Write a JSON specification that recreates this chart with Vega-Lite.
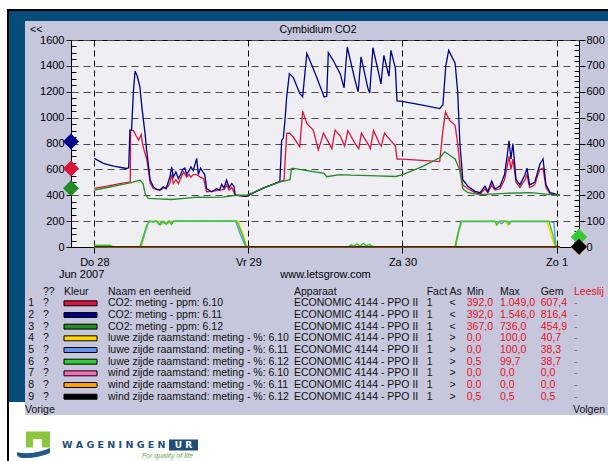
{
"$schema": "https://vega.github.io/schema/vega-lite/v6.json",
"background": "#c6c6dc",
"padding": 0,
"config": {
  "font": "Liberation Sans",
  "view": {"stroke": null},
  "text": {"font": "Liberation Sans", "fontSize": 10.5, "align": "left", "baseline": "middle", "color": "#111111"},
  "axis": {"labelFont": "Liberation Sans", "titleFont": "Liberation Sans", "labelColor": "#000000", "titleColor": "#000000"},
  "title": {"font": "Liberation Sans", "fontSize": 10.5, "fontWeight": "normal", "color": "#000000"}
},
"datasets": {
  "co2": [
    {"s":"CO2 6.10","t":"2007-06-28T00:00","v":453},{"s":"CO2 6.10","t":"2007-06-28T02:00","v":470},{"s":"CO2 6.10","t":"2007-06-28T04:00","v":490},{"s":"CO2 6.10","t":"2007-06-28T05:36","v":504},{"s":"CO2 6.10","t":"2007-06-28T05:39","v":903},{"s":"CO2 6.10","t":"2007-06-28T06:06","v":900},{"s":"CO2 6.10","t":"2007-06-28T06:30","v":860},{"s":"CO2 6.10","t":"2007-06-28T06:54","v":826},{"s":"CO2 6.10","t":"2007-06-28T07:18","v":870},{"s":"CO2 6.10","t":"2007-06-28T07:30","v":800},{"s":"CO2 6.10","t":"2007-06-28T07:45","v":750},{"s":"CO2 6.10","t":"2007-06-28T08:12","v":672},{"s":"CO2 6.10","t":"2007-06-28T08:42","v":494},{"s":"CO2 6.10","t":"2007-06-28T09:12","v":453},{"s":"CO2 6.10","t":"2007-06-28T10:12","v":440},{"s":"CO2 6.10","t":"2007-06-28T11:00","v":460},{"s":"CO2 6.10","t":"2007-06-28T11:30","v":470},{"s":"CO2 6.10","t":"2007-06-28T11:48","v":500},{"s":"CO2 6.10","t":"2007-06-28T12:03","v":560},{"s":"CO2 6.10","t":"2007-06-28T12:18","v":490},{"s":"CO2 6.10","t":"2007-06-28T12:42","v":520},{"s":"CO2 6.10","t":"2007-06-28T13:06","v":490},{"s":"CO2 6.10","t":"2007-06-28T13:54","v":582},{"s":"CO2 6.10","t":"2007-06-28T14:24","v":540},{"s":"CO2 6.10","t":"2007-06-28T14:45","v":560},{"s":"CO2 6.10","t":"2007-06-28T15:03","v":540},{"s":"CO2 6.10","t":"2007-06-28T15:24","v":560},{"s":"CO2 6.10","t":"2007-06-28T15:57","v":560},{"s":"CO2 6.10","t":"2007-06-28T16:30","v":540},{"s":"CO2 6.10","t":"2007-06-28T17:00","v":530},{"s":"CO2 6.10","t":"2007-06-28T17:30","v":427},{"s":"CO2 6.10","t":"2007-06-28T18:18","v":430},{"s":"CO2 6.10","t":"2007-06-28T19:30","v":440},{"s":"CO2 6.10","t":"2007-06-28T20:12","v":445},{"s":"CO2 6.10","t":"2007-06-28T20:36","v":480},{"s":"CO2 6.10","t":"2007-06-28T21:00","v":440},{"s":"CO2 6.10","t":"2007-06-28T21:24","v":460},{"s":"CO2 6.10","t":"2007-06-28T21:57","v":400},{"s":"CO2 6.10","t":"2007-06-28T23:42","v":392},
    {"s":"CO2 6.10","t":"2007-06-29T02:18","v":455},{"s":"CO2 6.10","t":"2007-06-29T04:54","v":504},{"s":"CO2 6.10","t":"2007-06-29T05:33","v":517},{"s":"CO2 6.10","t":"2007-06-29T05:58","v":878},{"s":"CO2 6.10","t":"2007-06-29T06:24","v":880},{"s":"CO2 6.10","t":"2007-06-29T07:00","v":850},{"s":"CO2 6.10","t":"2007-06-29T08:00","v":775},{"s":"CO2 6.10","t":"2007-06-29T08:27","v":1049},{"s":"CO2 6.10","t":"2007-06-29T09:06","v":955},{"s":"CO2 6.10","t":"2007-06-29T10:06","v":903},{"s":"CO2 6.10","t":"2007-06-29T10:54","v":750},{"s":"CO2 6.10","t":"2007-06-29T11:42","v":880},{"s":"CO2 6.10","t":"2007-06-29T13:00","v":760},{"s":"CO2 6.10","t":"2007-06-29T13:30","v":903},{"s":"CO2 6.10","t":"2007-06-29T14:18","v":860},{"s":"CO2 6.10","t":"2007-06-29T15:00","v":780},{"s":"CO2 6.10","t":"2007-06-29T15:30","v":900},{"s":"CO2 6.10","t":"2007-06-29T16:36","v":800},{"s":"CO2 6.10","t":"2007-06-29T17:12","v":760},{"s":"CO2 6.10","t":"2007-06-29T17:36","v":880},{"s":"CO2 6.10","t":"2007-06-29T18:42","v":790},{"s":"CO2 6.10","t":"2007-06-29T19:00","v":760},{"s":"CO2 6.10","t":"2007-06-29T19:30","v":900},{"s":"CO2 6.10","t":"2007-06-29T20:24","v":800},{"s":"CO2 6.10","t":"2007-06-29T20:42","v":780},{"s":"CO2 6.10","t":"2007-06-29T21:12","v":880},{"s":"CO2 6.10","t":"2007-06-29T22:12","v":820},{"s":"CO2 6.10","t":"2007-06-29T22:54","v":780},{"s":"CO2 6.10","t":"2007-06-29T23:09","v":680},
    {"s":"CO2 6.10","t":"2007-06-30T00:00","v":680},{"s":"CO2 6.10","t":"2007-06-30T03:00","v":670},{"s":"CO2 6.10","t":"2007-06-30T05:48","v":660},{"s":"CO2 6.10","t":"2007-06-30T06:18","v":900},{"s":"CO2 6.10","t":"2007-06-30T06:42","v":1045},{"s":"CO2 6.10","t":"2007-06-30T07:18","v":980},{"s":"CO2 6.10","t":"2007-06-30T08:12","v":940},{"s":"CO2 6.10","t":"2007-06-30T08:36","v":800},{"s":"CO2 6.10","t":"2007-06-30T09:00","v":600},{"s":"CO2 6.10","t":"2007-06-30T09:24","v":480},{"s":"CO2 6.10","t":"2007-06-30T10:12","v":450},{"s":"CO2 6.10","t":"2007-06-30T11:18","v":420},{"s":"CO2 6.10","t":"2007-06-30T12:06","v":410},{"s":"CO2 6.10","t":"2007-06-30T12:51","v":450},{"s":"CO2 6.10","t":"2007-06-30T13:18","v":420},{"s":"CO2 6.10","t":"2007-06-30T13:54","v":480},{"s":"CO2 6.10","t":"2007-06-30T14:24","v":440},{"s":"CO2 6.10","t":"2007-06-30T15:12","v":450},{"s":"CO2 6.10","t":"2007-06-30T15:54","v":520},{"s":"CO2 6.10","t":"2007-06-30T16:18","v":620},{"s":"CO2 6.10","t":"2007-06-30T16:36","v":700},{"s":"CO2 6.10","t":"2007-06-30T16:54","v":600},{"s":"CO2 6.10","t":"2007-06-30T17:12","v":680},{"s":"CO2 6.10","t":"2007-06-30T17:42","v":500},{"s":"CO2 6.10","t":"2007-06-30T18:18","v":460},{"s":"CO2 6.10","t":"2007-06-30T19:06","v":520},{"s":"CO2 6.10","t":"2007-06-30T19:24","v":560},{"s":"CO2 6.10","t":"2007-06-30T19:48","v":460},{"s":"CO2 6.10","t":"2007-06-30T20:36","v":480},{"s":"CO2 6.10","t":"2007-06-30T21:24","v":600},{"s":"CO2 6.10","t":"2007-06-30T21:54","v":610},{"s":"CO2 6.10","t":"2007-06-30T22:21","v":460},{"s":"CO2 6.10","t":"2007-06-30T23:00","v":410},{"s":"CO2 6.10","t":"2007-07-01T00:30","v":400},
    {"s":"CO2 6.11","t":"2007-06-28T00:00","v":685},{"s":"CO2 6.11","t":"2007-06-28T01:24","v":646},{"s":"CO2 6.11","t":"2007-06-28T03:00","v":625},{"s":"CO2 6.11","t":"2007-06-28T05:00","v":607},{"s":"CO2 6.11","t":"2007-06-28T05:21","v":612},{"s":"CO2 6.11","t":"2007-06-28T05:33","v":903},{"s":"CO2 6.11","t":"2007-06-28T05:48","v":905},{"s":"CO2 6.11","t":"2007-06-28T06:06","v":1212},{"s":"CO2 6.11","t":"2007-06-28T06:21","v":1359},{"s":"CO2 6.11","t":"2007-06-28T06:42","v":1320},{"s":"CO2 6.11","t":"2007-06-28T07:06","v":1238},{"s":"CO2 6.11","t":"2007-06-28T07:24","v":1083},{"s":"CO2 6.11","t":"2007-06-28T07:54","v":878},{"s":"CO2 6.11","t":"2007-06-28T08:09","v":749},{"s":"CO2 6.11","t":"2007-06-28T08:42","v":517},{"s":"CO2 6.11","t":"2007-06-28T09:12","v":466},{"s":"CO2 6.11","t":"2007-06-28T09:42","v":445},{"s":"CO2 6.11","t":"2007-06-28T10:12","v":440},{"s":"CO2 6.11","t":"2007-06-28T10:45","v":465},{"s":"CO2 6.11","t":"2007-06-28T11:12","v":450},{"s":"CO2 6.11","t":"2007-06-28T11:30","v":500},{"s":"CO2 6.11","t":"2007-06-28T11:48","v":545},{"s":"CO2 6.11","t":"2007-06-28T12:03","v":620},{"s":"CO2 6.11","t":"2007-06-28T12:18","v":540},{"s":"CO2 6.11","t":"2007-06-28T12:42","v":580},{"s":"CO2 6.11","t":"2007-06-28T13:06","v":530},{"s":"CO2 6.11","t":"2007-06-28T13:27","v":560},{"s":"CO2 6.11","t":"2007-06-28T13:45","v":600},{"s":"CO2 6.11","t":"2007-06-28T14:06","v":610},{"s":"CO2 6.11","t":"2007-06-28T14:24","v":560},{"s":"CO2 6.11","t":"2007-06-28T14:45","v":590},{"s":"CO2 6.11","t":"2007-06-28T15:03","v":620},{"s":"CO2 6.11","t":"2007-06-28T15:24","v":590},{"s":"CO2 6.11","t":"2007-06-28T15:57","v":685},{"s":"CO2 6.11","t":"2007-06-28T16:12","v":560},{"s":"CO2 6.11","t":"2007-06-28T16:33","v":610},{"s":"CO2 6.11","t":"2007-06-28T16:54","v":580},{"s":"CO2 6.11","t":"2007-06-28T17:12","v":560},{"s":"CO2 6.11","t":"2007-06-28T17:30","v":450},{"s":"CO2 6.11","t":"2007-06-28T18:18","v":427},{"s":"CO2 6.11","t":"2007-06-28T19:03","v":450},{"s":"CO2 6.11","t":"2007-06-28T19:30","v":440},{"s":"CO2 6.11","t":"2007-06-28T19:51","v":483},{"s":"CO2 6.11","t":"2007-06-28T20:12","v":455},{"s":"CO2 6.11","t":"2007-06-28T20:36","v":517},{"s":"CO2 6.11","t":"2007-06-28T21:00","v":460},{"s":"CO2 6.11","t":"2007-06-28T21:24","v":490},{"s":"CO2 6.11","t":"2007-06-28T21:45","v":470},{"s":"CO2 6.11","t":"2007-06-28T21:57","v":400},{"s":"CO2 6.11","t":"2007-06-28T23:42","v":392},
    {"s":"CO2 6.11","t":"2007-06-29T02:18","v":455},{"s":"CO2 6.11","t":"2007-06-29T04:54","v":505},{"s":"CO2 6.11","t":"2007-06-29T05:11","v":826},{"s":"CO2 6.11","t":"2007-06-29T05:26","v":840},{"s":"CO2 6.11","t":"2007-06-29T05:42","v":980},{"s":"CO2 6.11","t":"2007-06-29T05:58","v":1160},{"s":"CO2 6.11","t":"2007-06-29T06:23","v":1340},{"s":"CO2 6.11","t":"2007-06-29T07:00","v":1310},{"s":"CO2 6.11","t":"2007-06-29T08:00","v":1187},{"s":"CO2 6.11","t":"2007-06-29T08:27","v":1160},{"s":"CO2 6.11","t":"2007-06-29T09:06","v":1495},{"s":"CO2 6.11","t":"2007-06-29T09:36","v":1440},{"s":"CO2 6.11","t":"2007-06-29T10:39","v":1310},{"s":"CO2 6.11","t":"2007-06-29T11:48","v":1160},{"s":"CO2 6.11","t":"2007-06-29T12:12","v":1165},{"s":"CO2 6.11","t":"2007-06-29T12:27","v":1503},{"s":"CO2 6.11","t":"2007-06-29T13:12","v":1443},{"s":"CO2 6.11","t":"2007-06-29T14:18","v":1340},{"s":"CO2 6.11","t":"2007-06-29T14:54","v":1230},{"s":"CO2 6.11","t":"2007-06-29T15:24","v":1546},{"s":"CO2 6.11","t":"2007-06-29T16:36","v":1290},{"s":"CO2 6.11","t":"2007-06-29T17:06","v":1200},{"s":"CO2 6.11","t":"2007-06-29T17:33","v":1470},{"s":"CO2 6.11","t":"2007-06-29T18:36","v":1230},{"s":"CO2 6.11","t":"2007-06-29T18:54","v":1190},{"s":"CO2 6.11","t":"2007-06-29T19:24","v":1540},{"s":"CO2 6.11","t":"2007-06-29T20:21","v":1330},{"s":"CO2 6.11","t":"2007-06-29T20:39","v":1260},{"s":"CO2 6.11","t":"2007-06-29T21:06","v":1480},{"s":"CO2 6.11","t":"2007-06-29T21:54","v":1320},{"s":"CO2 6.11","t":"2007-06-29T22:12","v":1520},{"s":"CO2 6.11","t":"2007-06-29T22:54","v":1380},{"s":"CO2 6.11","t":"2007-06-29T23:09","v":1130},
    {"s":"CO2 6.11","t":"2007-06-29T23:54","v":1125},{"s":"CO2 6.11","t":"2007-06-30T02:42","v":1100},{"s":"CO2 6.11","t":"2007-06-30T05:48","v":1070},{"s":"CO2 6.11","t":"2007-06-30T06:18","v":1100},{"s":"CO2 6.11","t":"2007-06-30T06:45","v":1400},{"s":"CO2 6.11","t":"2007-06-30T07:12","v":1520},{"s":"CO2 6.11","t":"2007-06-30T08:12","v":1420},{"s":"CO2 6.11","t":"2007-06-30T08:36","v":1200},{"s":"CO2 6.11","t":"2007-06-30T08:57","v":800},{"s":"CO2 6.11","t":"2007-06-30T09:24","v":520},{"s":"CO2 6.11","t":"2007-06-30T10:12","v":470},{"s":"CO2 6.11","t":"2007-06-30T11:18","v":430},{"s":"CO2 6.11","t":"2007-06-30T12:06","v":420},{"s":"CO2 6.11","t":"2007-06-30T12:51","v":470},{"s":"CO2 6.11","t":"2007-06-30T13:18","v":430},{"s":"CO2 6.11","t":"2007-06-30T13:54","v":510},{"s":"CO2 6.11","t":"2007-06-30T14:24","v":450},{"s":"CO2 6.11","t":"2007-06-30T15:12","v":470},{"s":"CO2 6.11","t":"2007-06-30T15:54","v":560},{"s":"CO2 6.11","t":"2007-06-30T16:18","v":700},{"s":"CO2 6.11","t":"2007-06-30T16:36","v":820},{"s":"CO2 6.11","t":"2007-06-30T16:54","v":680},{"s":"CO2 6.11","t":"2007-06-30T17:12","v":800},{"s":"CO2 6.11","t":"2007-06-30T17:42","v":520},{"s":"CO2 6.11","t":"2007-06-30T18:18","v":480},{"s":"CO2 6.11","t":"2007-06-30T19:06","v":560},{"s":"CO2 6.11","t":"2007-06-30T19:24","v":610},{"s":"CO2 6.11","t":"2007-06-30T19:48","v":480},{"s":"CO2 6.11","t":"2007-06-30T20:36","v":500},{"s":"CO2 6.11","t":"2007-06-30T21:24","v":640},{"s":"CO2 6.11","t":"2007-06-30T21:54","v":680},{"s":"CO2 6.11","t":"2007-06-30T22:21","v":480},{"s":"CO2 6.11","t":"2007-06-30T23:00","v":420},{"s":"CO2 6.11","t":"2007-07-01T00:30","v":400},
    {"s":"CO2 6.12","t":"2007-06-28T00:00","v":440},{"s":"CO2 6.12","t":"2007-06-28T02:00","v":460},{"s":"CO2 6.12","t":"2007-06-28T04:00","v":480},{"s":"CO2 6.12","t":"2007-06-28T05:36","v":495},{"s":"CO2 6.12","t":"2007-06-28T06:30","v":510},{"s":"CO2 6.12","t":"2007-06-28T07:06","v":517},{"s":"CO2 6.12","t":"2007-06-28T07:36","v":490},{"s":"CO2 6.12","t":"2007-06-28T07:54","v":415},{"s":"CO2 6.12","t":"2007-06-28T08:24","v":376},{"s":"CO2 6.12","t":"2007-06-28T10:00","v":372},{"s":"CO2 6.12","t":"2007-06-28T12:00","v":367},{"s":"CO2 6.12","t":"2007-06-28T14:00","v":376},{"s":"CO2 6.12","t":"2007-06-28T16:00","v":385},{"s":"CO2 6.12","t":"2007-06-28T18:00","v":383},{"s":"CO2 6.12","t":"2007-06-28T20:00","v":385},{"s":"CO2 6.12","t":"2007-06-28T21:57","v":400},{"s":"CO2 6.12","t":"2007-06-28T23:42","v":400},
    {"s":"CO2 6.12","t":"2007-06-29T02:18","v":455},{"s":"CO2 6.12","t":"2007-06-29T04:54","v":504},{"s":"CO2 6.12","t":"2007-06-29T06:30","v":520},{"s":"CO2 6.12","t":"2007-06-29T06:42","v":608},{"s":"CO2 6.12","t":"2007-06-29T07:00","v":608},{"s":"CO2 6.12","t":"2007-06-29T10:06","v":582},{"s":"CO2 6.12","t":"2007-06-29T11:48","v":570},{"s":"CO2 6.12","t":"2007-06-29T12:12","v":543},{"s":"CO2 6.12","t":"2007-06-29T14:18","v":560},{"s":"CO2 6.12","t":"2007-06-29T16:00","v":555},{"s":"CO2 6.12","t":"2007-06-29T20:00","v":550},{"s":"CO2 6.12","t":"2007-06-29T23:00","v":545},
    {"s":"CO2 6.12","t":"2007-06-30T00:00","v":560},{"s":"CO2 6.12","t":"2007-06-30T03:00","v":620},{"s":"CO2 6.12","t":"2007-06-30T05:48","v":690},{"s":"CO2 6.12","t":"2007-06-30T06:36","v":736},{"s":"CO2 6.12","t":"2007-06-30T08:12","v":680},{"s":"CO2 6.12","t":"2007-06-30T08:54","v":600},{"s":"CO2 6.12","t":"2007-06-30T09:24","v":450},{"s":"CO2 6.12","t":"2007-06-30T10:12","v":420},{"s":"CO2 6.12","t":"2007-06-30T12:00","v":405},{"s":"CO2 6.12","t":"2007-06-30T16:00","v":415},{"s":"CO2 6.12","t":"2007-06-30T20:00","v":420},{"s":"CO2 6.12","t":"2007-06-30T23:00","v":405},{"s":"CO2 6.12","t":"2007-07-01T00:30","v":400}
  ],
  "win": [
    {"s":"luwe 6.10","t":"2007-06-28T00:00","v":0},{"s":"luwe 6.10","t":"2007-06-28T07:18","v":0},{"s":"luwe 6.10","t":"2007-06-28T07:48","v":45},{"s":"luwe 6.10","t":"2007-06-28T08:18","v":85},{"s":"luwe 6.10","t":"2007-06-28T08:36","v":100},{"s":"luwe 6.10","t":"2007-06-28T10:12","v":100},{"s":"luwe 6.10","t":"2007-06-28T10:30","v":88},{"s":"luwe 6.10","t":"2007-06-28T10:54","v":100},{"s":"luwe 6.10","t":"2007-06-28T11:30","v":90},{"s":"luwe 6.10","t":"2007-06-28T11:54","v":100},{"s":"luwe 6.10","t":"2007-06-28T22:24","v":100},{"s":"luwe 6.10","t":"2007-06-28T23:06","v":55},{"s":"luwe 6.10","t":"2007-06-28T23:48","v":0},{"s":"luwe 6.10","t":"2007-06-29T15:30","v":0},{"s":"luwe 6.10","t":"2007-06-29T16:00","v":4},{"s":"luwe 6.10","t":"2007-06-29T16:30","v":0},{"s":"luwe 6.10","t":"2007-06-29T17:30","v":5},{"s":"luwe 6.10","t":"2007-06-29T18:00","v":0},{"s":"luwe 6.10","t":"2007-06-30T08:18","v":0},{"s":"luwe 6.10","t":"2007-06-30T08:48","v":60},{"s":"luwe 6.10","t":"2007-06-30T09:18","v":100},{"s":"luwe 6.10","t":"2007-06-30T14:30","v":100},{"s":"luwe 6.10","t":"2007-06-30T14:48","v":88},{"s":"luwe 6.10","t":"2007-06-30T15:12","v":100},{"s":"luwe 6.10","t":"2007-06-30T16:00","v":100},{"s":"luwe 6.10","t":"2007-06-30T16:24","v":85},{"s":"luwe 6.10","t":"2007-06-30T16:48","v":100},{"s":"luwe 6.10","t":"2007-06-30T22:30","v":100},{"s":"luwe 6.10","t":"2007-06-30T23:12","v":40},{"s":"luwe 6.10","t":"2007-06-30T23:48","v":0},{"s":"luwe 6.10","t":"2007-07-01T00:30","v":0},
    {"s":"luwe 6.11","t":"2007-06-28T00:00","v":0},{"s":"luwe 6.11","t":"2007-06-28T07:12","v":0},{"s":"luwe 6.11","t":"2007-06-28T07:42","v":40},{"s":"luwe 6.11","t":"2007-06-28T08:12","v":80},{"s":"luwe 6.11","t":"2007-06-28T08:30","v":98},{"s":"luwe 6.11","t":"2007-06-28T09:42","v":100},{"s":"luwe 6.11","t":"2007-06-28T10:06","v":86},{"s":"luwe 6.11","t":"2007-06-28T10:24","v":98},{"s":"luwe 6.11","t":"2007-06-28T11:12","v":88},{"s":"luwe 6.11","t":"2007-06-28T11:36","v":100},{"s":"luwe 6.11","t":"2007-06-28T12:00","v":90},{"s":"luwe 6.11","t":"2007-06-28T12:18","v":100},{"s":"luwe 6.11","t":"2007-06-28T22:00","v":100},{"s":"luwe 6.11","t":"2007-06-28T22:48","v":45},{"s":"luwe 6.11","t":"2007-06-28T23:36","v":0},{"s":"luwe 6.11","t":"2007-06-30T08:12","v":0},{"s":"luwe 6.11","t":"2007-06-30T08:42","v":55},{"s":"luwe 6.11","t":"2007-06-30T09:12","v":98},{"s":"luwe 6.11","t":"2007-06-30T15:00","v":98},{"s":"luwe 6.11","t":"2007-06-30T15:24","v":90},{"s":"luwe 6.11","t":"2007-06-30T15:48","v":98},{"s":"luwe 6.11","t":"2007-06-30T23:00","v":98},{"s":"luwe 6.11","t":"2007-06-30T23:18","v":95},{"s":"luwe 6.11","t":"2007-06-30T23:36","v":95},{"s":"luwe 6.11","t":"2007-06-30T23:54","v":0},{"s":"luwe 6.11","t":"2007-07-01T00:30","v":0},
    {"s":"luwe 6.12","t":"2007-06-28T00:00","v":7},{"s":"luwe 6.12","t":"2007-06-28T02:30","v":7},{"s":"luwe 6.12","t":"2007-06-28T03:00","v":0},{"s":"luwe 6.12","t":"2007-06-28T07:06","v":0},{"s":"luwe 6.12","t":"2007-06-28T07:36","v":40},{"s":"luwe 6.12","t":"2007-06-28T08:12","v":85},{"s":"luwe 6.12","t":"2007-06-28T08:36","v":100},{"s":"luwe 6.12","t":"2007-06-28T09:12","v":96},{"s":"luwe 6.12","t":"2007-06-28T09:36","v":100},{"s":"luwe 6.12","t":"2007-06-28T10:18","v":86},{"s":"luwe 6.12","t":"2007-06-28T10:36","v":100},{"s":"luwe 6.12","t":"2007-06-28T11:18","v":90},{"s":"luwe 6.12","t":"2007-06-28T11:42","v":100},{"s":"luwe 6.12","t":"2007-06-28T12:00","v":87},{"s":"luwe 6.12","t":"2007-06-28T12:24","v":100},{"s":"luwe 6.12","t":"2007-06-28T22:12","v":100},{"s":"luwe 6.12","t":"2007-06-28T23:00","v":50},{"s":"luwe 6.12","t":"2007-06-28T23:42","v":0},{"s":"luwe 6.12","t":"2007-06-29T15:36","v":0},{"s":"luwe 6.12","t":"2007-06-29T16:00","v":9},{"s":"luwe 6.12","t":"2007-06-29T16:24","v":2},{"s":"luwe 6.12","t":"2007-06-29T16:54","v":12},{"s":"luwe 6.12","t":"2007-06-29T17:24","v":4},{"s":"luwe 6.12","t":"2007-06-29T17:54","v":14},{"s":"luwe 6.12","t":"2007-06-29T18:24","v":5},{"s":"luwe 6.12","t":"2007-06-29T18:54","v":10},{"s":"luwe 6.12","t":"2007-06-29T19:24","v":0},{"s":"luwe 6.12","t":"2007-06-30T08:12","v":0},{"s":"luwe 6.12","t":"2007-06-30T08:36","v":50},{"s":"luwe 6.12","t":"2007-06-30T09:06","v":100},{"s":"luwe 6.12","t":"2007-06-30T14:24","v":100},{"s":"luwe 6.12","t":"2007-06-30T14:42","v":85},{"s":"luwe 6.12","t":"2007-06-30T15:06","v":100},{"s":"luwe 6.12","t":"2007-06-30T16:18","v":100},{"s":"luwe 6.12","t":"2007-06-30T16:36","v":88},{"s":"luwe 6.12","t":"2007-06-30T17:00","v":100},{"s":"luwe 6.12","t":"2007-06-30T22:48","v":100},{"s":"luwe 6.12","t":"2007-06-30T23:24","v":50},{"s":"luwe 6.12","t":"2007-06-30T23:54","v":0},{"s":"luwe 6.12","t":"2007-07-01T00:30","v":0},
    {"s":"wind 6.10","t":"2007-06-28T00:00","v":0},{"s":"wind 6.10","t":"2007-07-01T00:30","v":0},
    {"s":"wind 6.11","t":"2007-06-28T00:00","v":0},{"s":"wind 6.11","t":"2007-07-01T00:30","v":0},
    {"s":"wind 6.12","t":"2007-06-28T00:00","v":0.5},{"s":"wind 6.12","t":"2007-07-01T00:30","v":0.5}
  ],
  "tbl": [
    {"r":0,"q":"??","kl":"Kleur","name":"Naam en eenheid","app":"Apparaat","fact":"Fact","as":"As","min":"Min","max":"Max","gem":"Gem","lees":"Leeslijn"},
    {"r":1,"q":"?","s":"CO2 6.10","name":"CO2: meting - ppm: 6.10","app":"ECONOMIC 4144 - PPO II","fact":"1","as":"<","min":"392,0","max":"1.049,0","gem":"607,4","lees":"-","avg":607.4,"side":"L"},
    {"r":2,"q":"?","s":"CO2 6.11","name":"CO2: meting - ppm: 6.11","app":"ECONOMIC 4144 - PPO II","fact":"1","as":"<","min":"392,0","max":"1.546,0","gem":"816,4","lees":"-","avg":816.4,"side":"L"},
    {"r":3,"q":"?","s":"CO2 6.12","name":"CO2: meting - ppm: 6.12","app":"ECONOMIC 4144 - PPO II","fact":"1","as":"<","min":"367,0","max":"736,0","gem":"454,9","lees":"-","avg":454.9,"side":"L"},
    {"r":4,"q":"?","s":"luwe 6.10","name":"luwe zijde raamstand: meting - %: 6.10","app":"ECONOMIC 4144 - PPO II","fact":"1","as":">","min":"0,0","max":"100,0","gem":"40,7","lees":"-","avg":40.7,"side":"R"},
    {"r":5,"q":"?","s":"luwe 6.11","name":"luwe zijde raamstand: meting - %: 6.11","app":"ECONOMIC 4144 - PPO II","fact":"1","as":">","min":"0,0","max":"100,0","gem":"38,3","lees":"-","avg":38.3,"side":"R"},
    {"r":6,"q":"?","s":"luwe 6.12","name":"luwe zijde raamstand: meting - %: 6.12","app":"ECONOMIC 4144 - PPO II","fact":"1","as":">","min":"0,5","max":"99,7","gem":"38,7","lees":"-","avg":38.7,"side":"R"},
    {"r":7,"q":"?","s":"wind 6.10","name":"wind zijde raamstand: meting - %: 6.10","app":"ECONOMIC 4144 - PPO II","fact":"1","as":">","min":"0,0","max":"0,0","gem":"0,0","lees":"-","avg":0,"side":"R"},
    {"r":8,"q":"?","s":"wind 6.11","name":"wind zijde raamstand: meting - %: 6.11","app":"ECONOMIC 4144 - PPO II","fact":"1","as":">","min":"0,0","max":"0,0","gem":"0,0","lees":"-","avg":0,"side":"R"},
    {"r":9,"q":"?","s":"wind 6.12","name":"wind zijde raamstand: meting - %: 6.12","app":"ECONOMIC 4144 - PPO II","fact":"1","as":">","min":"0,5","max":"0,5","gem":"0,5","lees":"-","avg":0.5,"side":"R"}
  ]
},
"spacing": 0,
"hconcat": [
  {"width":7,"height":461,"data":{"values":[]},"mark":{"type":"text","text":""},"view":{"fill":"#ffffff"}},
  {"spacing":0,"vconcat":[
    {"width":601,"height":9,"data":{"values":[]},"mark":{"type":"text","text":""},"view":{"fill":"#ffffff"}},
    {"width":601,"height":2,"data":{"values":[]},"mark":{"type":"text","text":""},"view":{"fill":"#000000"}},
    {"spacing":0,"hconcat":[
      {"width":2,"height":450,"data":{"values":[]},"mark":{"type":"text","text":""},"view":{"fill":"#000000"}},
      {"spacing":0,"vconcat":[
        {"width":599,"height":10,"data":{"values":[]},"mark":{"type":"text","text":""},"view":{"fill":"#074d7b"}},
        {"spacing":0,"hconcat":[
          {"spacing":0,"bounds":"flush","vconcat":[
            {"width":16,"height":381,"data":{"values":[]},"mark":{"type":"text","text":""},"view":{"fill":"#074d7b"}},
            {"width":16,"height":13,"data":{"values":[]},"mark":{"type":"text","text":""},"view":{"fill":"#ffffff"}}
          ]},
          {"spacing":0,"bounds":"flush","vconcat":[
            {"width":537,"height":19,"view":{"fill":"#c6c6dc"},"data":{"values":[{}]},
             "layer":[
               {"mark":{"type":"text","text":"<<","fontSize":10.5,"color":"#000000","dx":-309.5,"dy":-1}},
               {"mark":{"type":"text","text":"Cymbidium CO2","align":"center","fontSize":10.5,"color":"#000000","dx":-21.5,"dy":-1}}
             ]},
            {"width":508,"height":207,
             "view":{"fill":"#eeeef3","stroke":"#000000","strokeWidth":1},
             "layer":[
               {"layer":[
                 {"data":{"name":"co2"},"mark":{"type":"line","strokeWidth":1.3},
                  "encoding":{
                    "x":{"field":"t","type":"temporal","title":"www.letsgrow.com",
                      "scale":{"domain":[{"year":2007,"month":6,"date":27,"hours":20,"minutes":22},{"year":2007,"month":7,"date":1,"hours":3,"minutes":30}],"nice":false},
                      "axis":{"values":[{"year":2007,"month":6,"date":28},{"year":2007,"month":6,"date":29},{"year":2007,"month":6,"date":30},{"year":2007,"month":7,"date":1}],
                        "tickCount":20,
                        "labelExpr":"['Zo','Ma','Di','Wo','Do','Vr','Za'][day(datum.value)] + '  ' + date(datum.value)",
                        "tickSize":6,"labelPadding":3,"labelFontSize":11,"labelFlush":false,"labelOverlap":false,
                        "grid":true,"gridColor":"#000000","gridDash":[6,4],"gridOpacity":1,"gridWidth":1,
                        "domainColor":"#000000","tickColor":"#000000","titleFontSize":11,"titleFontWeight":"normal","titlePadding":1}},
                    "y":{"field":"v","type":"quantitative","title":null,"scale":{"domain":[0,1600],"nice":false,"zero":false},
                    "axis":{"orient":"left","values":[0,50,100,150,200,250,300,350,400,450,500,550,600,650,700,750,800,850,900,950,1000,1050,1100,1150,1200,1250,1300,1350,1400,1450,1500,1550,1600],
                      "tickCount":100,
                      "format":"d","labelExpr":"datum.value % 200 === 0 ? datum.label : ''","labelOverlap":false,"labelFontSize":11,"labelPadding":2,
                      "grid":true,"gridColor":"#4a4a4a","gridDash":[7,5],"gridWidth":1,
                      "gridOpacity":{"condition":{"test":"datum.value % 200 === 0","value":1},"value":0},
                      "tickSize":{"condition":{"test":"datum.value % 200 === 0","value":5},"value":-5},
                      "tickColor":"#000000","domainColor":"#000000"}},
                    "color":{"field":"s","type":"nominal","legend":null,"scale":{"domain":["CO2 6.10","CO2 6.11","CO2 6.12","luwe 6.10","luwe 6.11","luwe 6.12","wind 6.10","wind 6.11","wind 6.12"],"range":["#dc143c","#00008b","#228b22","#ffd700","#6495ed","#32cd32","#ff69b4","#ffa500","#000000"]}}}},
                 {"data":{"name":"tbl"},"transform":[{"filter":"datum.side === 'L'"}],
                  "mark":{"type":"point","shape":"diamond","size":256,"filled":true,"opacity":1},
                  "encoding":{"x":{"datum":{"year":2007,"month":6,"date":27,"hours":20,"minutes":22},"type":"temporal","title":"www.letsgrow.com"},
                    "y":{"field":"avg","type":"quantitative","title":null},
                    "color":{"field":"s","type":"nominal","legend":null}}}
               ]},
               {"layer":[
                 {"data":{"name":"win"},"mark":{"type":"line","strokeWidth":1.4},
                  "encoding":{
                    "x":{"field":"t","type":"temporal","title":"www.letsgrow.com"},
                    "y":{"field":"v","type":"quantitative","title":null,"scale":{"domain":[0,800],"nice":false,"zero":false},
                    "axis":{"orient":"right","values":[0,20,40,60,80,100,120,140,160,180,200,220,240,260,280,300,320,340,360,380,400,420,440,460,480,500,520,540,560,580,600,620,640,660,680,700,720,740,760,780,800],
                      "tickCount":100,
                      "format":"d","labelExpr":"datum.value % 100 === 0 ? datum.label : ''","labelOverlap":false,"labelFontSize":11,"labelPadding":1,
                      "grid":false,
                      "tickSize":{"condition":{"test":"datum.value % 100 === 0","value":6},"value":-5},
                      "tickColor":"#000000","domainColor":"#000000"}},
                    "color":{"field":"s","type":"nominal","legend":null}}},
                 {"data":{"name":"tbl"},"transform":[{"filter":"datum.side === 'R'"}],
                  "mark":{"type":"point","shape":"diamond","size":256,"filled":true,"opacity":1},
                  "encoding":{"x":{"datum":{"year":2007,"month":7,"date":1,"hours":3,"minutes":30},"type":"temporal","title":"www.letsgrow.com"},
                    "y":{"field":"avg","type":"quantitative","title":null},
                    "color":{"field":"s","type":"nominal","legend":null}}}
               ]}
             ],
             "resolve":{"scale":{"y":"independent"},"axis":{"y":"independent"}}
            },
            {"width":537,"height":50,"data":{"values":[{}]},
             "mark":{"type":"text","text":"Jun 2007","fontSize":11,"color":"#000000","dx":-280.5,"dy":3}},
            {"width":537,"height":105,
             "data":{"name":"tbl"},
             "encoding":{"y":{"field":"r","type":"quantitative","scale":{"domain":[1,9],"range":[6.3,99.7],"nice":false,"zero":false},"axis":null}},
             "layer":[
               {"data":{"values":[{}]},"mark":{"type":"point","shape":"M-1,-0.18357H1V0.18357H-1Z","size":327184,"filled":true,"opacity":1,"color":"#ffffff","stroke":"#303030","strokeWidth":1,"xOffset":-17.5,"yOffset":-0.5},
                "encoding":{"y":{"datum":5,"type":"quantitative"}}},
               {"transform":[{"filter":"datum.r > 0"}],"mark":{"type":"text","align":"right","dx":-305.5},"encoding":{"text":{"field":"r"}}},
               {"mark":{"type":"text","dx":-296.5},"encoding":{"text":{"field":"q"}}},
               {"transform":[{"filter":"datum.r === 0"}],"mark":{"type":"text","dx":-275.5},"encoding":{"text":{"field":"kl"}}},
               {"transform":[{"filter":"datum.r > 0"}],"mark":{"type":"point","shape":"M-1,-0.15H1V0.15H-1Z","size":1089,"filled":true,"opacity":1,"stroke":"#000000","strokeWidth":1,"xOffset":-259},
                "encoding":{"color":{"field":"s","type":"nominal","legend":null,"scale":{"domain":["CO2 6.10","CO2 6.11","CO2 6.12","luwe 6.10","luwe 6.11","luwe 6.12","wind 6.10","wind 6.11","wind 6.12"],"range":["#dc143c","#00008b","#228b22","#ffd700","#6495ed","#32cd32","#ff69b4","#ffa500","#000000"]}}}},
               {"mark":{"type":"text","dx":-231.5},"encoding":{"text":{"field":"name"}}},
               {"mark":{"type":"text","dx":-45.5},"encoding":{"text":{"field":"app"}}},
               {"mark":{"type":"text","dx":87.2},"encoding":{"text":{"field":"fact"}}},
               {"mark":{"type":"text","dx":110},"encoding":{"text":{"field":"as"}}},
               {"mark":{"type":"text","dx":127.2},"encoding":{"text":{"field":"min"},"color":{"condition":{"test":"datum.r === 0","value":"#111111"},"value":"#e8101e"}}},
               {"mark":{"type":"text","dx":160.5},"encoding":{"text":{"field":"max"},"color":{"condition":{"test":"datum.r === 0","value":"#111111"},"value":"#e8101e"}}},
               {"mark":{"type":"text","dx":201.2},"encoding":{"text":{"field":"gem"},"color":{"condition":{"test":"datum.r === 0","value":"#111111"},"value":"#e8101e"}}},
               {"mark":{"type":"text","dx":234.5,"limit":34,"ellipsis":" "},"encoding":{"text":{"field":"lees"},"color":{"condition":{"test":"datum.r === 0","value":"#e8101e"},"value":"#5070c8"}}}
             ]},
            {"width":537,"height":13,"view":{"fill":"#c6c6dc"},"data":{"values":[{"prev":"Vorige","next":"Volgende"}]},
             "layer":[
               {"mark":{"type":"text","dx":-314.5,"dy":1},"encoding":{"text":{"field":"prev"}}},
               {"mark":{"type":"text","dx":233.5,"dy":1,"limit":36,"ellipsis":" "},"encoding":{"text":{"field":"next"}}}
             ]}
          ]}
        ]},
        {"width":599,"height":46,"view":{"fill":"#ffffff"},"data":{"values":[{}]},
         "layer":[
           {"mark":{"type":"point","shape":"M-1,-0.66H1V0.66H0.33V-0.05H-0.42V0.66H-1Z","size":576,"filled":true,"opacity":1,"color":"#8cc63f","xOffset":-270.5,"yOffset":1.5}},
           {"mark":{"type":"point","shape":"M-1,-0.05Q0,0.15 1,-0.3L1,0Q0.2,0.35 -0.7,0.3Q-0.95,0.25 -1,0.1Z","size":1089,"filled":true,"opacity":1,"color":"#1f5a87","xOffset":-275,"yOffset":15}},
           {"mark":{"type":"text","text":"W A G E N I N G E N","font":"DejaVu Sans","fontWeight":"bold","fontSize":9.5,"color":"#1f4e79","dx":-246.5,"dy":7}},
           {"mark":{"type":"point","shape":"M-1,-0.38H1V0.38H-1Z","size":841,"filled":true,"opacity":1,"color":"#1f4e79","xOffset":-125,"yOffset":7}},
           {"mark":{"type":"text","text":"U R","align":"center","font":"DejaVu Sans","fontWeight":"bold","fontSize":9,"color":"#ffffff","dx":-125,"dy":7}},
           {"mark":{"type":"text","text":"For quality of life","align":"center","fontStyle":"italic","fontSize":7,"color":"#6aa84f","dx":-141,"dy":18}}
         ]}
      ]}
    ]}
  ]}
]
}
